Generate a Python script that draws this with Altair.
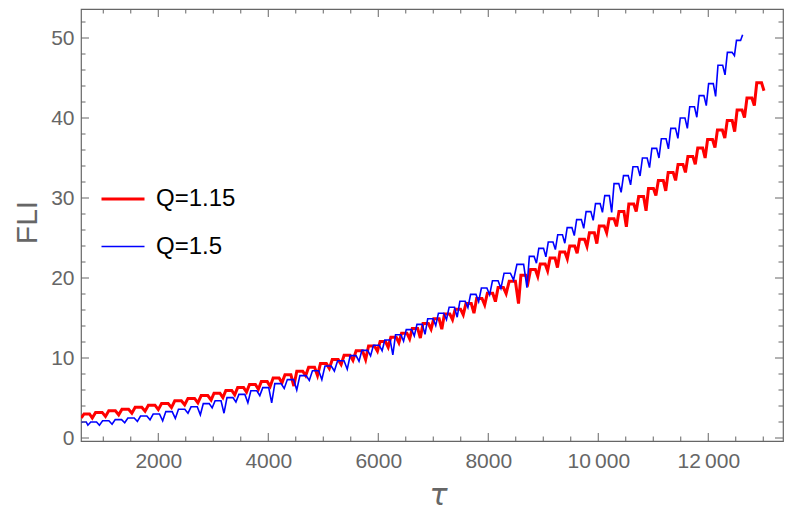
import json
import altair as alt
import pandas as pd

# ---------------- data ----------------
# cusp positions (tau), values at the cusps, and hump-top values between cusps
red_cusp_tau = [600, 800, 1040, 1280, 1520, 1760, 2000, 2240, 2480, 2720, 2960,
                3175, 3390, 3605, 3820, 4035, 4250, 4465, 4680, 4895, 5110, 5325,
                5540, 5770, 5985, 6180, 6375, 6570, 6765, 6960, 7155, 7350, 7545,
                7740, 7935, 8130, 8325, 8550, 8725, 8900, 9079, 9258, 9437, 9616,
                9795, 9974, 10153, 10332, 10511, 10690, 10869, 11048, 11227, 11406,
                11585, 11764, 11943, 12122, 12301, 12480, 12659, 12838, 13013]
red_cusp_fli = [2.5, 2.5, 2.7, 2.9, 3.1, 3.35, 3.55, 3.8, 4.15, 4.4, 4.75,
                5.05, 5.4, 5.75, 6.1, 6.45, 6.9, 6.5, 7.8, 7.8, 8.7, 9.2,
                9.7, 9.8, 10.85, 11.35, 11.9, 12.4, 12.5, 13.6, 13.6, 14.8, 15.4,
                15.6, 16.65, 17.05, 18.05, 16.8, 19.5, 20.2, 20.9, 21.3, 22.4, 23.1,
                23.95, 24.3, 25.65, 26.45, 26.4, 28.3, 28.4, 30.3, 30.9, 32.2,
                33.2, 34.2, 35.0, 36.3, 37.5, 38.3, 40.05, 41.55, 43.4]
red_top_fli = [3.0, 3.2, 3.4, 3.6, 3.85, 4.1, 4.3, 4.65, 4.95, 5.3,
               5.6, 5.95, 6.3, 6.7, 7.05, 7.5, 7.9, 8.35, 8.85, 9.3,
               9.8, 10.35, 10.9, 11.5, 12.05, 12.6, 13.1, 13.7, 14.3, 14.9,
               15.5, 16.1, 16.8, 17.45, 18.1, 18.8, 19.6, 20.35, 21.05, 21.75,
               22.5, 23.25, 24.0, 24.85, 25.65, 26.5, 27.4, 28.3, 29.25, 30.2,
               31.2, 32.2, 33.2, 34.2, 35.2, 36.25, 37.3, 38.5, 39.7, 41.0,
               42.5, 44.4]

blue_cusp_tau = [600, 720, 930, 1160, 1390, 1620, 1850, 2080, 2310, 2540, 2765,
                 2980, 3195, 3412, 3629, 3846, 4062, 4290, 4518, 4746, 4974, 5202,
                 5436, 5650, 5860, 6070, 6265, 6460, 6655, 6850, 7045, 7240, 7435,
                 7630, 7825, 8025, 8230, 8460, 8704, 8876, 9048, 9220, 9392, 9564,
                 9736, 9908, 10076, 10244, 10416, 10588, 10760, 10932, 11104, 11276,
                 11448, 11620, 11792, 11964, 12134, 12305, 12476, 12625]
blue_cusp_fli = [1.95, 1.6, 1.6, 1.72, 1.9, 2.07, 2.27, 2.15, 2.45, 3.1, 2.9,
                 3.77, 3.1, 4.5, 4.4, 5.3, 4.4, 6.2, 6.0, 7.2, 7.3, 8.37,
                 8.6, 9.6, 10.27, 10.9, 10.4, 12.1, 12.77, 12.95, 14.05, 14.8, 15.1,
                 16.3, 17.05, 17.9, 18.7, 19.75, 18.8, 21.85, 22.65, 23.55, 24.35, 25.3,
                 26.2, 27.2, 28.2, 28.2, 30.7, 31.65, 32.75, 33.8, 35.0, 36.15,
                 37.45, 38.7, 40.1, 41.55, 42.7, 45.4, 47.8, 50.4]
blue_top_fli = [2.0, 2.0, 2.15, 2.3, 2.5, 2.75, 3.0, 3.3, 3.6, 3.9,
                4.3, 4.65, 5.05, 5.45, 5.9, 6.3, 6.8, 7.3, 7.8, 8.4,
                9.0, 9.65, 10.3, 10.95, 11.6, 12.25, 12.9, 13.55, 14.2, 14.9,
                15.6, 16.35, 17.1, 17.95, 18.75, 19.65, 20.6, 21.7, 22.7, 23.7,
                24.5, 25.4, 26.3, 27.3, 28.3, 29.3, 30.3, 31.8, 32.8, 33.9,
                35.0, 36.2, 37.4, 38.7, 40.0, 41.4, 42.8, 44.3, 46.6, 48.2,
                49.7]

series_names = ["Q=1.15", "Q=1.5"]
series_colors = ["#ff0000", "#0000ff"]
series_widths = [3.0, 1.6]

x_major = [2000, 4000, 6000, 8000, 10000, 12000]
x_major_labels = ["2000", "4000", "6000", "8000", "10\u2009000", "12\u2009000"]
x_minor = [1000, 1500, 2500, 3000, 3500, 4500, 5000, 5500, 6500, 7000, 7500,
           8500, 9000, 9500, 10500, 11000, 11500, 12500, 13000]
y_major = [0, 10, 20, 30, 40, 50]
y_minor = [2, 4, 6, 8, 12, 14, 16, 18, 22, 24, 26, 28, 32, 34, 36, 38,
           42, 44, 46, 48, 52]

x_domain = [595, 13359]
y_domain = [-0.375, 53.625]

# ---------------- build table ----------------
def build(name, cusps, dips, tops):
    rows = []
    for i in range(len(tops)):
        a, b = cusps[i], cusps[i + 1]
        rows.append({"tau": a, "fli": dips[i], "series": name})
        rows.append({"tau": a + 0.25 * (b - a), "fli": tops[i], "series": name})
        rows.append({"tau": a + 0.75 * (b - a), "fli": tops[i], "series": name})
    rows.append({"tau": cusps[-1], "fli": dips[-1], "series": name})
    return rows

df = pd.DataFrame(build(series_names[0], red_cusp_tau, red_cusp_fli, red_top_fli)
                  + build(series_names[1], blue_cusp_tau, blue_cusp_fli, blue_top_fli))

W, H = 702, 432
GRAY = "#666666"
xs = alt.Scale(domain=x_domain, nice=False, zero=False)
ys = alt.Scale(domain=y_domain, nice=False, zero=False)

label_expr = (json.dumps(x_major_labels, ensure_ascii=False)
              + "[indexof(" + json.dumps(x_major) + ", datum.value)]")

x_axis = alt.Axis(values=x_major, labelExpr=label_expr, ticks=False, tickSize=0,
                  domain=False, grid=False, labelFontSize=21,
                  labelFont="Liberation Sans", labelColor=GRAY, labelPadding=9,
                  title="τ", titleFont="DejaVu Sans", titleFontStyle="italic",
                  titleFontSize=30, titleFontWeight="normal", titleColor=GRAY,
                  titleX=357, titleY=63, titleAlign="center",
                  titleBaseline="alphabetic")
y_axis = alt.Axis(values=y_major, ticks=False, tickSize=0, domain=False,
                  grid=False, labelFontSize=21, labelFont="Liberation Sans",
                  labelColor=GRAY, labelPadding=7,
                  title="FLI", titleFont="Liberation Sans", titleFontSize=30,
                  titleFontWeight="normal", titleColor=GRAY, titleAngle=270,
                  titleX=-45, titleY=213, titleAlign="center",
                  titleBaseline="alphabetic")

legend_kw = dict(title=None, orient="none", legendX=19, legendY=167,
                 symbolType="stroke", symbolSize=1849, labelFontSize=24,
                 labelFont="Liberation Sans", labelColor="black", labelOffset=10,
                 rowPadding=13, padding=0)

lines = alt.Chart(df).mark_line(clip=True).encode(
    x=alt.X("tau:Q", scale=xs, axis=x_axis, title="τ"),
    y=alt.Y("fli:Q", scale=ys, axis=y_axis, title="FLI"),
    color=alt.Color("series:N", scale=alt.Scale(domain=series_names, range=series_colors),
                    legend=alt.Legend(**legend_kw)),
    strokeWidth=alt.StrokeWidth("series:N",
                                scale=alt.Scale(domain=series_names, range=series_widths),
                                legend=alt.Legend(**legend_kw)),
)


def xticks(vals, length, top):
    base = alt.Chart(pd.DataFrame({"tau": vals})).mark_rule(color=GRAY, strokeWidth=1)
    xenc = alt.X("tau:Q", scale=xs, axis=x_axis, title="τ")
    if top:
        return base.encode(x=xenc, y=alt.value(0), y2=alt.value(length))
    return base.encode(x=xenc, y=alt.value(H), y2=alt.value(H - length))


def yticks(vals, length, right):
    base = alt.Chart(pd.DataFrame({"fli": vals})).mark_rule(color=GRAY, strokeWidth=1)
    yenc = alt.Y("fli:Q", scale=ys, axis=y_axis, title="FLI")
    if right:
        return base.encode(y=yenc, x=alt.value(W), x2=alt.value(W - length))
    return base.encode(y=yenc, x=alt.value(0), x2=alt.value(length))


tick_layers = [
    xticks(x_major, 8, False), xticks(x_minor, 4.5, False),
    xticks(x_major, 8, True), xticks(x_minor, 4.5, True),
    yticks(y_major, 8, False), yticks(y_minor, 4.5, False),
    yticks(y_major, 8, True), yticks(y_minor, 4.5, True),
]

chart = alt.layer(lines, *tick_layers).properties(
    width=W, height=H,
    padding={"left": 73, "top": 1, "right": 1, "bottom": 72},
    autosize=alt.AutoSizeParams(type="none"),
).configure_view(stroke=GRAY, strokeWidth=1.2)

chart.save("out.html", embed_options={"renderer": "svg", "actions": False})
